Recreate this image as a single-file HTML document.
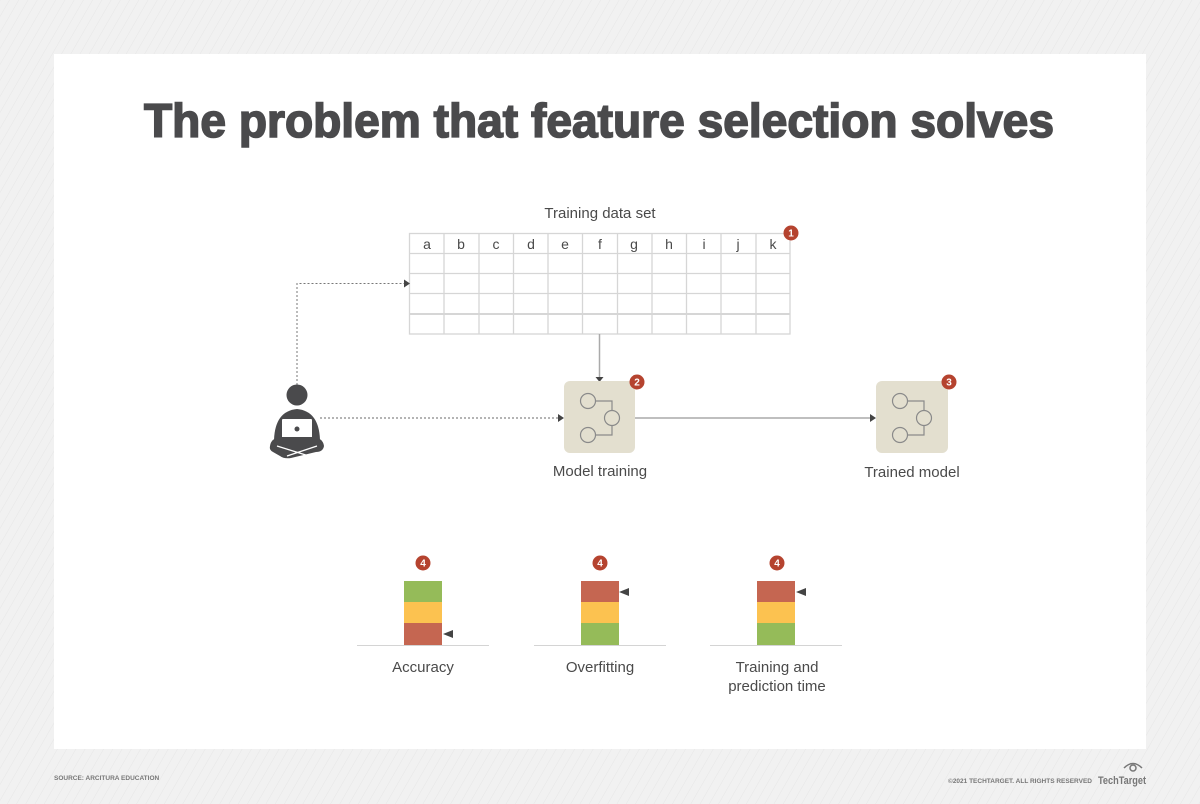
<!DOCTYPE html>
<html><head><meta charset="utf-8"><style>
html,body{margin:0;padding:0;width:1200px;height:804px;overflow:hidden}
body{background:#f0f0f0;font-family:"Liberation Sans",sans-serif}
</style></head><body>
<svg width="1200" height="804" viewBox="0 0 1200 804" xmlns="http://www.w3.org/2000/svg" font-family="Liberation Sans, sans-serif">
<defs>
<pattern id="st" width="8" height="8" patternUnits="userSpaceOnUse" patternTransform="rotate(30)">
<rect width="8" height="8" fill="#f1f1f1"/><line x1="0" y1="0" x2="0" y2="8" stroke="#e6e6e6" stroke-width="1"/>
</pattern>
</defs>
<rect width="1200" height="804" fill="url(#st)"/>
<rect x="54" y="54" width="1092" height="695" fill="#fff"/>
<text x="144" y="137" font-size="47" font-weight="bold" fill="#4a4a4c" stroke="#4a4a4c" stroke-width="1.6" textLength="910" lengthAdjust="spacingAndGlyphs">The problem that feature selection solves</text>

<text x="600" y="218" font-size="15" fill="#4a4a4a" text-anchor="middle">Training data set</text>
<g stroke="#d6d6d6" stroke-width="1.3" fill="none">
<rect x="409.5" y="233.5" width="380.5" height="100.5"/>
<line x1="409.5" y1="253.5" x2="790" y2="253.5"/>
<line x1="409.5" y1="273.5" x2="790" y2="273.5"/>
<line x1="409.5" y1="293.5" x2="790" y2="293.5"/>
<line x1="409.5" y1="314" x2="790" y2="314" stroke-width="2"/>
<line x1="444" y1="233" x2="444" y2="334"/><line x1="479" y1="233" x2="479" y2="334"/>
<line x1="513.5" y1="233" x2="513.5" y2="334"/><line x1="548" y1="233" x2="548" y2="334"/>
<line x1="582.5" y1="233" x2="582.5" y2="334"/><line x1="617.5" y1="233" x2="617.5" y2="334"/>
<line x1="652" y1="233" x2="652" y2="334"/><line x1="686.5" y1="233" x2="686.5" y2="334"/>
<line x1="721" y1="233" x2="721" y2="334"/><line x1="756" y1="233" x2="756" y2="334"/>
</g>
<g font-size="14" fill="#4a4a4a" text-anchor="middle">
<text x="427" y="249">a</text><text x="461" y="249">b</text><text x="496" y="249">c</text><text x="531" y="249">d</text><text x="565" y="249">e</text><text x="600" y="249">f</text><text x="634" y="249">g</text><text x="669" y="249">h</text><text x="704" y="249">i</text><text x="738" y="249">j</text><text x="773" y="249">k</text>
</g>

<polyline points="297,385 297,283.5 404,283.5" fill="none" stroke="#777" stroke-width="1" stroke-dasharray="2,2"/>
<polygon points="404,279.5 410,283.5 404,287.5" fill="#444"/>
<line x1="320" y1="418" x2="558" y2="418" stroke="#888" stroke-width="1.3" stroke-dasharray="2,2"/>
<polygon points="558,414 564,418 558,422" fill="#444"/>
<line x1="599.5" y1="334" x2="599.5" y2="377" stroke="#aaa" stroke-width="1.5"/>
<polygon points="595.5,377 599.5,382 603.5,377" fill="#444"/>
<line x1="635" y1="418" x2="870" y2="418" stroke="#aaa" stroke-width="1.5"/>
<polygon points="870,414 876,418 870,422" fill="#444"/>

<g fill="#4a4a4c">
<circle cx="297" cy="395" r="10.5"/>
<path d="M274,440 Q275,411 297,409 Q319,411 320,440 Z"/>
<rect x="282" y="419" width="30" height="20" rx="1" fill="#fff"/>
<circle cx="297" cy="429" r="2.5"/>
<path d="M270,446 Q271,438 281,437 L313,437 Q323,438 324,446 Q323,452 316,452 L291,458 Q284,459 280,456 L273,452 Q269,450 270,446 Z"/>
</g>
<path d="M277,446 L309,456 M317,446 L287,456" stroke="#fff" stroke-width="1.2"/>

<rect x="564" y="381" width="71" height="72" rx="6" fill="#e3dfcf"/>
<rect x="876" y="381" width="72" height="72" rx="6" fill="#e3dfcf"/>
<g fill="none" stroke="#8a8a8a" stroke-width="1.2">
<circle cx="588" cy="401" r="7.5"/><circle cx="612" cy="418" r="7.5"/><circle cx="588" cy="435" r="7.5"/>
<polyline points="595.5,401 612,401 612,410.5"/><polyline points="595.5,435 612,435 612,425.5"/>
<circle cx="900" cy="401" r="7.5"/><circle cx="924" cy="418" r="7.5"/><circle cx="900" cy="435" r="7.5"/>
<polyline points="907.5,401 924,401 924,410.5"/><polyline points="907.5,435 924,435 924,425.5"/>
</g>
<text x="600" y="476" font-size="15" fill="#4a4a4a" text-anchor="middle">Model training</text>
<text x="912" y="477" font-size="15" fill="#4a4a4a" text-anchor="middle">Trained model</text>

<g fill="#b5432f">
<circle cx="791" cy="233" r="7.5"/><circle cx="637" cy="382" r="7.5"/><circle cx="949" cy="382" r="7.5"/>
<circle cx="423" cy="563" r="7.5"/><circle cx="600" cy="563" r="7.5"/><circle cx="777" cy="563" r="7.5"/>
</g>
<g fill="#fff" font-size="10" font-weight="bold" text-anchor="middle">
<text x="791" y="236.5">1</text><text x="637" y="385.5">2</text><text x="949" y="385.5">3</text>
<text x="423" y="566.5">4</text><text x="600" y="566.5">4</text><text x="777" y="566.5">4</text>
</g>

<rect x="404" y="581" width="38" height="21" fill="#95bb59"/>
<rect x="404" y="602" width="38" height="21" fill="#fcc250"/>
<rect x="404" y="623" width="38" height="22" fill="#c56651"/>
<polygon points="443,634 453,630 453,638" fill="#444"/>
<line x1="357" y1="645.5" x2="489" y2="645.5" stroke="#d4d4d4" stroke-width="1"/>

<rect x="581" y="581" width="38" height="21" fill="#c56651"/>
<rect x="581" y="602" width="38" height="21" fill="#fcc250"/>
<rect x="581" y="623" width="38" height="22" fill="#95bb59"/>
<polygon points="619,592 629,588 629,596" fill="#444"/>
<line x1="534" y1="645.5" x2="666" y2="645.5" stroke="#d4d4d4" stroke-width="1"/>

<rect x="757" y="581" width="38" height="21" fill="#c56651"/>
<rect x="757" y="602" width="38" height="21" fill="#fcc250"/>
<rect x="757" y="623" width="38" height="22" fill="#95bb59"/>
<polygon points="796,592 806,588 806,596" fill="#444"/>
<line x1="710" y1="645.5" x2="842" y2="645.5" stroke="#d4d4d4" stroke-width="1"/>

<g font-size="15" fill="#4a4a4a" text-anchor="middle">
<text x="423" y="672">Accuracy</text>
<text x="600" y="672">Overfitting</text>
<text x="777" y="672">Training and</text>
<text x="777" y="691">prediction time</text>
</g>

<text x="54" y="780" font-size="6.5" font-weight="bold" fill="#777">SOURCE: ARCITURA EDUCATION</text>
<text x="1092" y="783" font-size="6.5" font-weight="bold" fill="#777" text-anchor="end">©2021 TECHTARGET. ALL RIGHTS RESERVED</text>
<text x="1146" y="784" font-size="11" font-weight="bold" fill="#777" text-anchor="end" textLength="48" lengthAdjust="spacingAndGlyphs">TechTarget</text>
<g fill="none" stroke="#777" stroke-width="1.5">
<circle cx="1133" cy="768" r="3"/><path d="M1124,768 Q1133,759 1142,768"/>
</g>
</svg>
</body></html>
